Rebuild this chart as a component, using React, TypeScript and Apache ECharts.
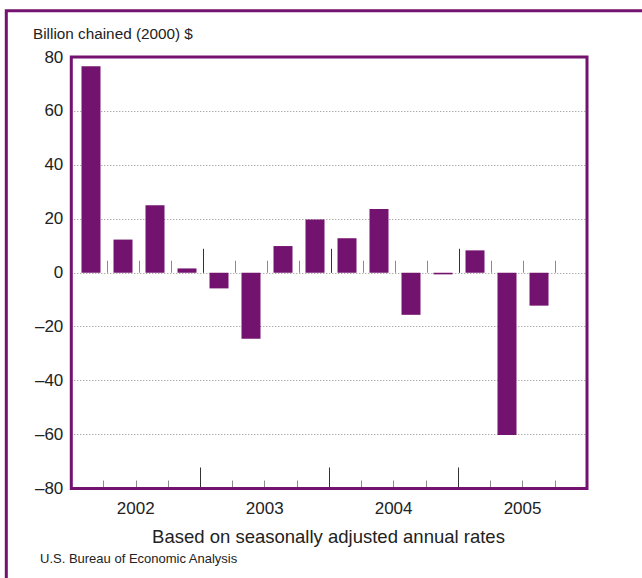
import React, { useEffect, useRef } from "react";
import * as echarts from "echarts";

const quarters = [
  "2002Q1", "2002Q2", "2002Q3", "2002Q4",
  "2003Q1", "2003Q2", "2003Q3", "2003Q4",
  "2004Q1", "2004Q2", "2004Q3", "2004Q4",
  "2005Q1", "2005Q2", "2005Q3", "2005Q4",
];
const years = ["2002", "2003", "2004", "2005"];
const changeValues: (number | null)[] = [
  76.6, 12.3, 25.0, 1.6,
  -5.8, -24.5, 9.9, 19.7,
  12.8, 23.6, -15.6, -0.6,
  8.3, -60.2, -12.2, null,
];
const yTicks = { min: -80, max: 80, interval: 20 };

const PURPLE = "#74136f";
const FONT = "'Liberation Sans', Arial, Helvetica, sans-serif";

export default function App() {
  const ref = useRef<HTMLDivElement>(null);

  useEffect(() => {
    if (!ref.current) return;
    const chart = echarts.init(ref.current, null, { renderer: "svg" });
    const fmt = (v: number) => (v < 0 ? "\u2013" + Math.abs(v) : String(v));
    const gridTop = 57;
    const gridBottom = 89.5;
    const skipFirst = (i: number) => i !== 0;

    chart.setOption({
      animation: false,
      backgroundColor: "#ffffff",
      textStyle: { fontFamily: FONT },
      grid: [
        {
          left: 71.3,
          right: 55,
          top: gridTop,
          bottom: gridBottom,
          show: true,
          borderColor: PURPLE,
          borderWidth: 3,
          backgroundColor: "transparent",
          z: 5,
        },
        {
          left: 75,
          right: 55,
          top: gridTop,
          bottom: gridBottom,
          show: false,
        },
      ],
      xAxis: [
        {
          gridIndex: 0,
          type: "category",
          data: quarters,
          position: "bottom",
          boundaryGap: true,
          axisLine: { show: false, onZero: false },
          axisTick: {
            show: true,
            inside: true,
            length: 8,
            interval: 0,
            lineStyle: { color: "#8a8a8a", width: 1 },
          },
          axisLabel: { show: false },
          splitLine: { show: false },
        },
        {
          gridIndex: 0,
          type: "category",
          data: years,
          position: "bottom",
          boundaryGap: true,
          axisLine: { show: false, onZero: false },
          axisTick: {
            show: true,
            inside: true,
            length: 21,
            interval: 0,
            lineStyle: { color: "#333333", width: 1 },
          },
          axisLabel: {
            show: true,
            color: "#222222",
            fontSize: 17,
            fontFamily: FONT,
            margin: 11,
          },
          splitLine: { show: false },
        },
        {
          gridIndex: 1,
          type: "category",
          data: quarters,
          position: "bottom",
          boundaryGap: true,
          axisLine: {
            show: true,
            onZero: true,
            onZeroAxisIndex: 1,
            lineStyle: { color: "#ffffff", opacity: 0 },
          },
          axisTick: {
            show: true,
            inside: true,
            length: 12,
            interval: skipFirst,
            lineStyle: { color: "#8a8a8a", width: 1 },
          },
          axisLabel: { show: false },
          splitLine: { show: false },
        },
        {
          gridIndex: 1,
          type: "category",
          data: years,
          position: "bottom",
          boundaryGap: true,
          axisLine: {
            show: true,
            onZero: true,
            onZeroAxisIndex: 1,
            lineStyle: { color: "#ffffff", opacity: 0 },
          },
          axisTick: {
            show: true,
            inside: true,
            length: 24,
            interval: skipFirst,
            lineStyle: { color: "#333333", width: 1 },
          },
          axisLabel: { show: false },
          splitLine: { show: false },
        },
      ],
      yAxis: [
        {
          gridIndex: 0,
          type: "value",
          min: yTicks.min,
          max: yTicks.max,
          interval: yTicks.interval,
          axisLine: { show: false },
          axisTick: { show: false },
          axisLabel: {
            color: "#222222",
            fontSize: 17,
            fontFamily: FONT,
            margin: 8,
            formatter: fmt,
          },
          splitLine: {
            show: true,
            lineStyle: { color: "#8c8c8c", width: 1, type: [1, 2] },
          },
        },
        {
          gridIndex: 1,
          type: "value",
          min: yTicks.min,
          max: yTicks.max,
          interval: yTicks.interval,
          show: false,
          splitLine: { show: false },
        },
      ],
      series: [
        {
          type: "bar",
          xAxisIndex: 2,
          yAxisIndex: 1,
          data: changeValues,
          barWidth: 19,
          itemStyle: { color: PURPLE },
          z: 3,
        },
      ],
      graphic: [
        {
          type: "rect",
          shape: { x: 6.3, y: 10.7, width: 800, height: 800 },
          style: { fill: "none", stroke: PURPLE, lineWidth: 3 },
          silent: true,
        },
        {
          type: "text",
          left: 33,
          top: 26,
          style: {
            text: "Billion chained (2000) $",
            font: `15.3px ${FONT}`,
            fill: "#222222",
          },
        },
        {
          type: "text",
          x: 328.5,
          y: 536,
          style: {
            text: "Based on seasonally adjusted annual rates",
            font: `18.5px ${FONT}`,
            fill: "#222222",
            align: "center",
            verticalAlign: "middle",
          },
        },
        {
          type: "text",
          left: 40,
          top: 552,
          style: {
            text: "U.S. Bureau of Economic Analysis",
            font: `13px 'Liberation Sans Narrow', 'Arial Narrow', ${FONT}`,
            fill: "#222222",
          },
        },
      ],
    });

    return () => chart.dispose();
  }, []);

  return (
    <div
      ref={ref}
      style={{ width: 642, height: 578, position: "absolute", left: 0, top: 0 }}
    />
  );
}
